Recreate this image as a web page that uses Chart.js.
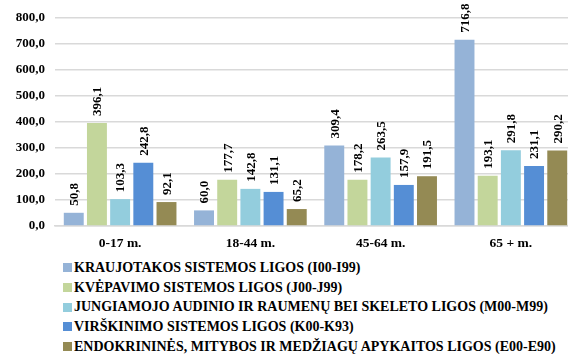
<!DOCTYPE html>
<html>
<head>
<meta charset="utf-8">
<script src="https://cdn.jsdelivr.net/npm/chart.js@4/dist/chart.umd.min.js"></script>
<style>
  html, body { margin: 0; padding: 0; overflow: hidden; background: #fff; }
  #wrap { position: relative; width: 576px; height: 354px; }
  #chart { position: absolute; left: 0; top: 0; }
  #legend {
    position: absolute; left: 63px; top: 258px; margin: 0; padding: 0; list-style: none;
    font: bold 14px "Liberation Serif", "Times New Roman", serif; color: #000;
  }
  #legend li { height: 19.7px; line-height: 19.7px; white-space: nowrap; display: flex; align-items: center; }
  #legend .box { display: inline-block; width: 9px; height: 9px; margin-right: 2px; }
</style>
</head>
<body>
<div id="wrap">
  <canvas id="chart" width="576" height="256"></canvas>
  <ul id="legend"></ul>
</div>
<script>
// Age groups on the category axis
const ageGroups = ['0-17 m.', '18-44 m.', '45-64 m.', '65 + m.'];

// Disease groups (series names)
const seriesNames = [
  'KRAUJOTAKOS SISTEMOS LIGOS (I00-I99)',
  'KVĖPAVIMO SISTEMOS LIGOS (J00-J99)',
  'JUNGIAMOJO AUDINIO IR RAUMENŲ BEI SKELETO LIGOS (M00-M99)',
  'VIRŠKINIMO SISTEMOS LIGOS (K00-K93)',
  'ENDOKRININĖS, MITYBOS IR MEDŽIAGŲ APYKAITOS LIGOS (E00-E90)'
];

// Values per disease group, one per age group
const circulatory = [50.8, 60.0, 309.4, 716.8];
const respiratory = [396.1, 177.7, 178.2, 193.1];
const musculoskeletal = [103.3, 142.8, 263.5, 291.8];
const digestive = [242.8, 131.1, 157.9, 231.1];
const endocrine = [92.1, 65.2, 191.5, 290.2];

// Y axis ticks
const yTicks = [0, 100, 200, 300, 400, 500, 600, 700, 800];

const seriesValues = [circulatory, respiratory, musculoskeletal, digestive, endocrine];
const seriesColors = ['#95B3D7', '#C3D69B', '#93CDDD', '#558ED5', '#948A54'];

const fmt = v => v.toFixed(1).replace('.', ',');
const serif = '"Liberation Serif", "Times New Roman", serif';

// Vertical value labels above each bar
const barValueLabels = {
  id: 'barValueLabels',
  afterDatasetsDraw(chart) {
    const ctx = chart.ctx;
    ctx.save();
    ctx.font = 'bold 13px ' + serif;
    ctx.fillStyle = '#000';
    ctx.textAlign = 'left';
    ctx.textBaseline = 'middle';
    chart.data.datasets.forEach((ds, di) => {
      chart.getDatasetMeta(di).data.forEach((bar, i) => {
        ctx.save();
        ctx.translate(bar.x, bar.y - 7);
        ctx.rotate(-Math.PI / 2);
        ctx.fillText(fmt(ds.data[i]), 0, 1);
        ctx.restore();
      });
    });
    ctx.restore();
  }
};

const chart = new Chart(document.getElementById('chart'), {
  type: 'bar',
  data: {
    labels: ageGroups,
    datasets: seriesNames.map((name, k) => ({
      label: name,
      data: seriesValues[k],
      backgroundColor: seriesColors[k],
      borderWidth: 0,
      categoryPercentage: 0.89,
      barPercentage: 0.86
    }))
  },
  options: {
    responsive: false,
    animation: false,
    layout: { padding: { top: 18, left: 0, right: 0, bottom: 0 } },
    plugins: { legend: { display: false }, tooltip: { enabled: false } },
    scales: {
      x: {
        grid: { display: false, drawTicks: false },
        border: { color: '#d9d9d9', width: 1.5 },
        ticks: { color: '#000', font: { family: serif, size: 13.5, weight: 'bold' }, padding: 9 },
        afterFit(scale) { scale.height = 30; }
      },
      y: {
        min: 0, max: 800,
        afterBuildTicks(scale) { scale.ticks = yTicks.map(v => ({ value: v })); },
        grid: { color: '#d9d9d9', lineWidth: 1.5, drawTicks: false },
        border: { display: false },
        ticks: {
          color: '#000', padding: 10,
          font: { family: serif, size: 13, weight: 'bold' },
          callback: v => fmt(v)
        },
        afterFit(scale) { scale.width = 55; }
      }
    }
  },
  plugins: [barValueLabels]
});

// Legend: one entry per line below the chart
const legendEl = document.getElementById('legend');
chart.data.datasets.forEach(ds => {
  const li = document.createElement('li');
  const box = document.createElement('span');
  box.className = 'box';
  box.style.background = ds.backgroundColor;
  li.appendChild(box);
  li.appendChild(document.createTextNode(ds.label));
  legendEl.appendChild(li);
});
</script>
</body>
</html>
